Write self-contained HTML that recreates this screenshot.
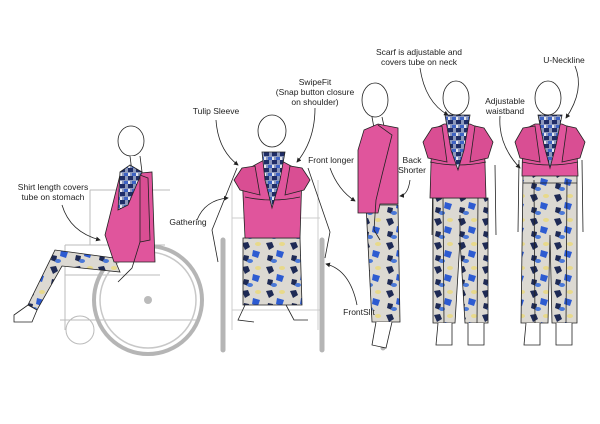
<!DOCTYPE html>
<html><head><meta charset="utf-8"><style>
html,body{margin:0;padding:0;background:#fff;width:600px;height:424px;overflow:hidden}
svg text{font-family:"Liberation Sans",sans-serif;font-size:8.5px;fill:#222;text-anchor:middle}
</style></head><body>
<svg width="600" height="424" viewBox="0 0 600 424">
<defs>
<pattern id="pr" width="24" height="24" patternUnits="userSpaceOnUse">
<rect width="24" height="24" fill="#dcd9d2"/>
<path d="M2 3 l6 -1 l2 5 l-5 3z" fill="#1e2a55"/>
<path d="M13 10 l7 2 l-2 6 l-6 -2z" fill="#2d5bd1"/>
<path d="M4 15 l5 1 l-1 6 l-5 -2z" fill="#1e2a55"/>
<ellipse cx="18" cy="4" rx="3" ry="2" fill="#e8d98a"/>
<ellipse cx="10" cy="21" rx="3" ry="2" fill="#4a78d8"/>
</pattern>
<pattern id="sc" width="8" height="8" patternUnits="userSpaceOnUse">
<rect width="8" height="8" fill="#8c98bc"/><path d="M0 0h5v4h-5z" fill="#1f2d66"/><path d="M4 5h4v3h-4z" fill="#3e63c4"/><path d="M0 5h2v3h-2z" fill="#e6e8ee"/>
</pattern>
<marker id="ar" markerWidth="6" markerHeight="6" refX="5" refY="3" orient="auto"><path d="M0 0L6 3L0 6z" fill="#222"/></marker>
</defs>
<g fill="none" stroke="#bbb" stroke-width="1">
<path d="M65 245 H165 M65 245 V330 M65 275 H160 M90 190 H170 M90 190 V245 M60 320 H200"/>
<circle cx="80" cy="330" r="14"/>
</g>
<circle cx="148" cy="300" r="54" fill="none" stroke="#b5b5b5" stroke-width="4"/>
<circle cx="148" cy="300" r="48" fill="none" stroke="#c8c8c8" stroke-width="1.5"/>
<circle cx="148" cy="300" r="4" fill="#bbb"/>
<g fill="none" stroke="#ccc"><path d="M232 180 V330 M318 180 V330 M232 218 H320 M232 310 H320"/></g>
<path d="M223 240 V350 M322 240 V350" stroke="#b5b5b5" stroke-width="5" stroke-linecap="round"/>
<path d="M383 235 V348" stroke="#b5b5b5" stroke-width="5" stroke-linecap="round"/>
<!-- Figure 1 seated -->
<g stroke="#222" stroke-width="0.8">
<ellipse cx="131" cy="141" rx="13" ry="15" fill="#fff"/>
<path d="M130 156 L132 172 L142 172 L140 156" fill="#fff"/>
<path d="M114 258 L55 250 L28 305 L37 310 L62 266 L120 272 Z" fill="url(#pr)"/>
<path d="M28 305 L14 315 L14 322 L32 322 L37 310 Z" fill="#fff"/>
<path d="M120 175 L152 172 L155 262 L114 262 L105 235 Z" fill="#e0559c"/>
<path d="M120 172 L130 165 L142 172 L128 205 L118 210 Z" fill="url(#sc)"/>
<path d="M140 175 L148 178 L150 240 L140 242 Z" fill="#d94e93"/>
<path d="M140 242 L132 268 L118 282" fill="none"/>
</g>
<!-- Figure 2 -->
<g stroke="#222" stroke-width="0.8">
<ellipse cx="272" cy="131" rx="14" ry="16" fill="#fff"/>
<path d="M237 168 L212 230 L218 262 M308 168 L330 232 L325 258" fill="none"/>
<path d="M243 238 L300 238 L302 305 L243 305 Z" fill="url(#pr)"/>
<path d="M245 305 L238 320 L254 322 M286 305 L294 320 L308 320" fill="none"/>
<path d="M242 172 L264 160 L280 160 L302 172 L300 238 L245 238 Z" fill="#e0559c"/>
<path d="M242 168 L234 180 L240 190 L260 195 L255 166 Z M302 168 L310 180 L304 190 L285 195 L290 166 Z" fill="#d94e93"/>
<path d="M245 197 Q272 203 300 197" fill="none"/>
<path d="M262 152 L285 152 L280 180 L272 208 L265 180 Z" fill="url(#sc)"/>
</g>
<!-- Figure 3 side -->
<g stroke="#222" stroke-width="0.8">
<ellipse cx="375" cy="100" rx="13" ry="17" fill="#fff"/>
<path d="M372 117 L374 128 M382 117 L384 126" fill="none"/>
<path d="M366 205 L398 205 L400 322 L372 322 Z" fill="url(#pr)"/>
<path d="M376 322 L372 345 L386 348 L392 322" fill="#fff"/>
<path d="M364 130 L378 124 L398 128 L398 204 L380 204 L378 213 L358 213 L358 150 Z" fill="#e0559c"/>
<path d="M378 125 L392 135 L382 175 L376 200 L374 230 L380 240" fill="none"/>
</g>
<!-- Figure 4 -->
<g stroke="#222" stroke-width="0.8">
<ellipse cx="456" cy="98" rx="13" ry="17" fill="#fff"/>
<path d="M433 165 L432 235 M495 165 L496 235" fill="none"/>
<path d="M433 198 L488 198 L488 323 L465 323 L460 240 L455 323 L433 323 Z" fill="url(#pr)"/>
<path d="M443 198 L444 323 M478 198 L477 323 M460 215 L460 240" fill="none"/>
<path d="M438 323 L436 345 L452 345 L452 323 M468 323 L468 345 L484 345 L484 323" fill="#fff"/>
<path d="M432 130 L444 124 L470 124 L484 130 L486 198 L430 198 Z" fill="#e0559c"/>
<path d="M432 128 L423 142 L428 158 L447 162 L442 126 Z M484 128 L493 142 L488 158 L470 162 L475 126 Z" fill="#d94e93"/>
<path d="M430 162 Q458 168 486 162" fill="none"/>
<path d="M445 115 L470 115 L464 150 L458 170 L451 150 Z" fill="url(#sc)"/>
</g>
<!-- Figure 5 -->
<g stroke="#222" stroke-width="0.8">
<ellipse cx="548" cy="98" rx="13" ry="17" fill="#fff"/>
<path d="M519 160 L518 232 M582 160 L583 232" fill="none"/>
<path d="M523 173 L577 173 L577 323 L552 323 L550 235 L548 323 L521 323 Z" fill="url(#pr)"/>
<path d="M534 180 L535 323 M567 180 L566 323 M523 183 H577" fill="none"/>
<path d="M526 323 L524 345 L540 345 L540 323 M556 323 L556 345 L572 345 L572 323" fill="#fff"/>
<path d="M523 130 L535 124 L562 124 L576 130 L578 176 L522 176 Z" fill="#e0559c"/>
<path d="M523 128 L515 142 L520 158 L540 162 L535 126 Z M576 128 L585 142 L580 158 L562 162 L567 126 Z" fill="#d94e93"/>
<path d="M522 162 Q550 168 578 162" fill="none"/>
<path d="M538 115 L562 115 L556 145 L550 168 L544 145 Z" fill="url(#sc)"/>
</g>
<g fill="none" stroke="#222" stroke-width="0.8" marker-end="url(#ar)">
<path d="M62 205 Q70 232 100 240"/>
<path d="M216 120 Q218 150 238 165"/>
<path d="M315 108 Q315 140 297 162"/>
<path d="M197 220 Q205 200 228 198"/>
<path d="M330 168 Q338 190 355 201"/>
<path d="M410 180 Q408 195 400 196"/>
<path d="M357 305 Q350 270 326 264"/>
<path d="M420 68 Q425 102 448 115"/>
<path d="M575 66 Q585 90 566 118"/>
<path d="M500 116 Q498 145 520 168"/>
</g>
<text x="53" y="190">Shirt length covers</text>
<text x="53" y="200">tube on stomach</text>
<text x="216" y="114">Tulip Sleeve</text>
<text x="315" y="85">SwipeFit</text>
<text x="315" y="95">(Snap button closure</text>
<text x="315" y="105">on shoulder)</text>
<text x="188" y="225">Gathering</text>
<text x="331" y="163">Front longer</text>
<text x="412" y="163">Back</text>
<text x="412" y="173">Shorter</text>
<text x="359" y="315">FrontSlit</text>
<text x="419" y="55">Scarf is adjustable  and</text>
<text x="419" y="65">covers tube on neck</text>
<text x="564" y="63">U-Neckline</text>
<text x="505" y="104">Adjustable</text>
<text x="505" y="114">waistband</text>
</svg>
</body></html>
